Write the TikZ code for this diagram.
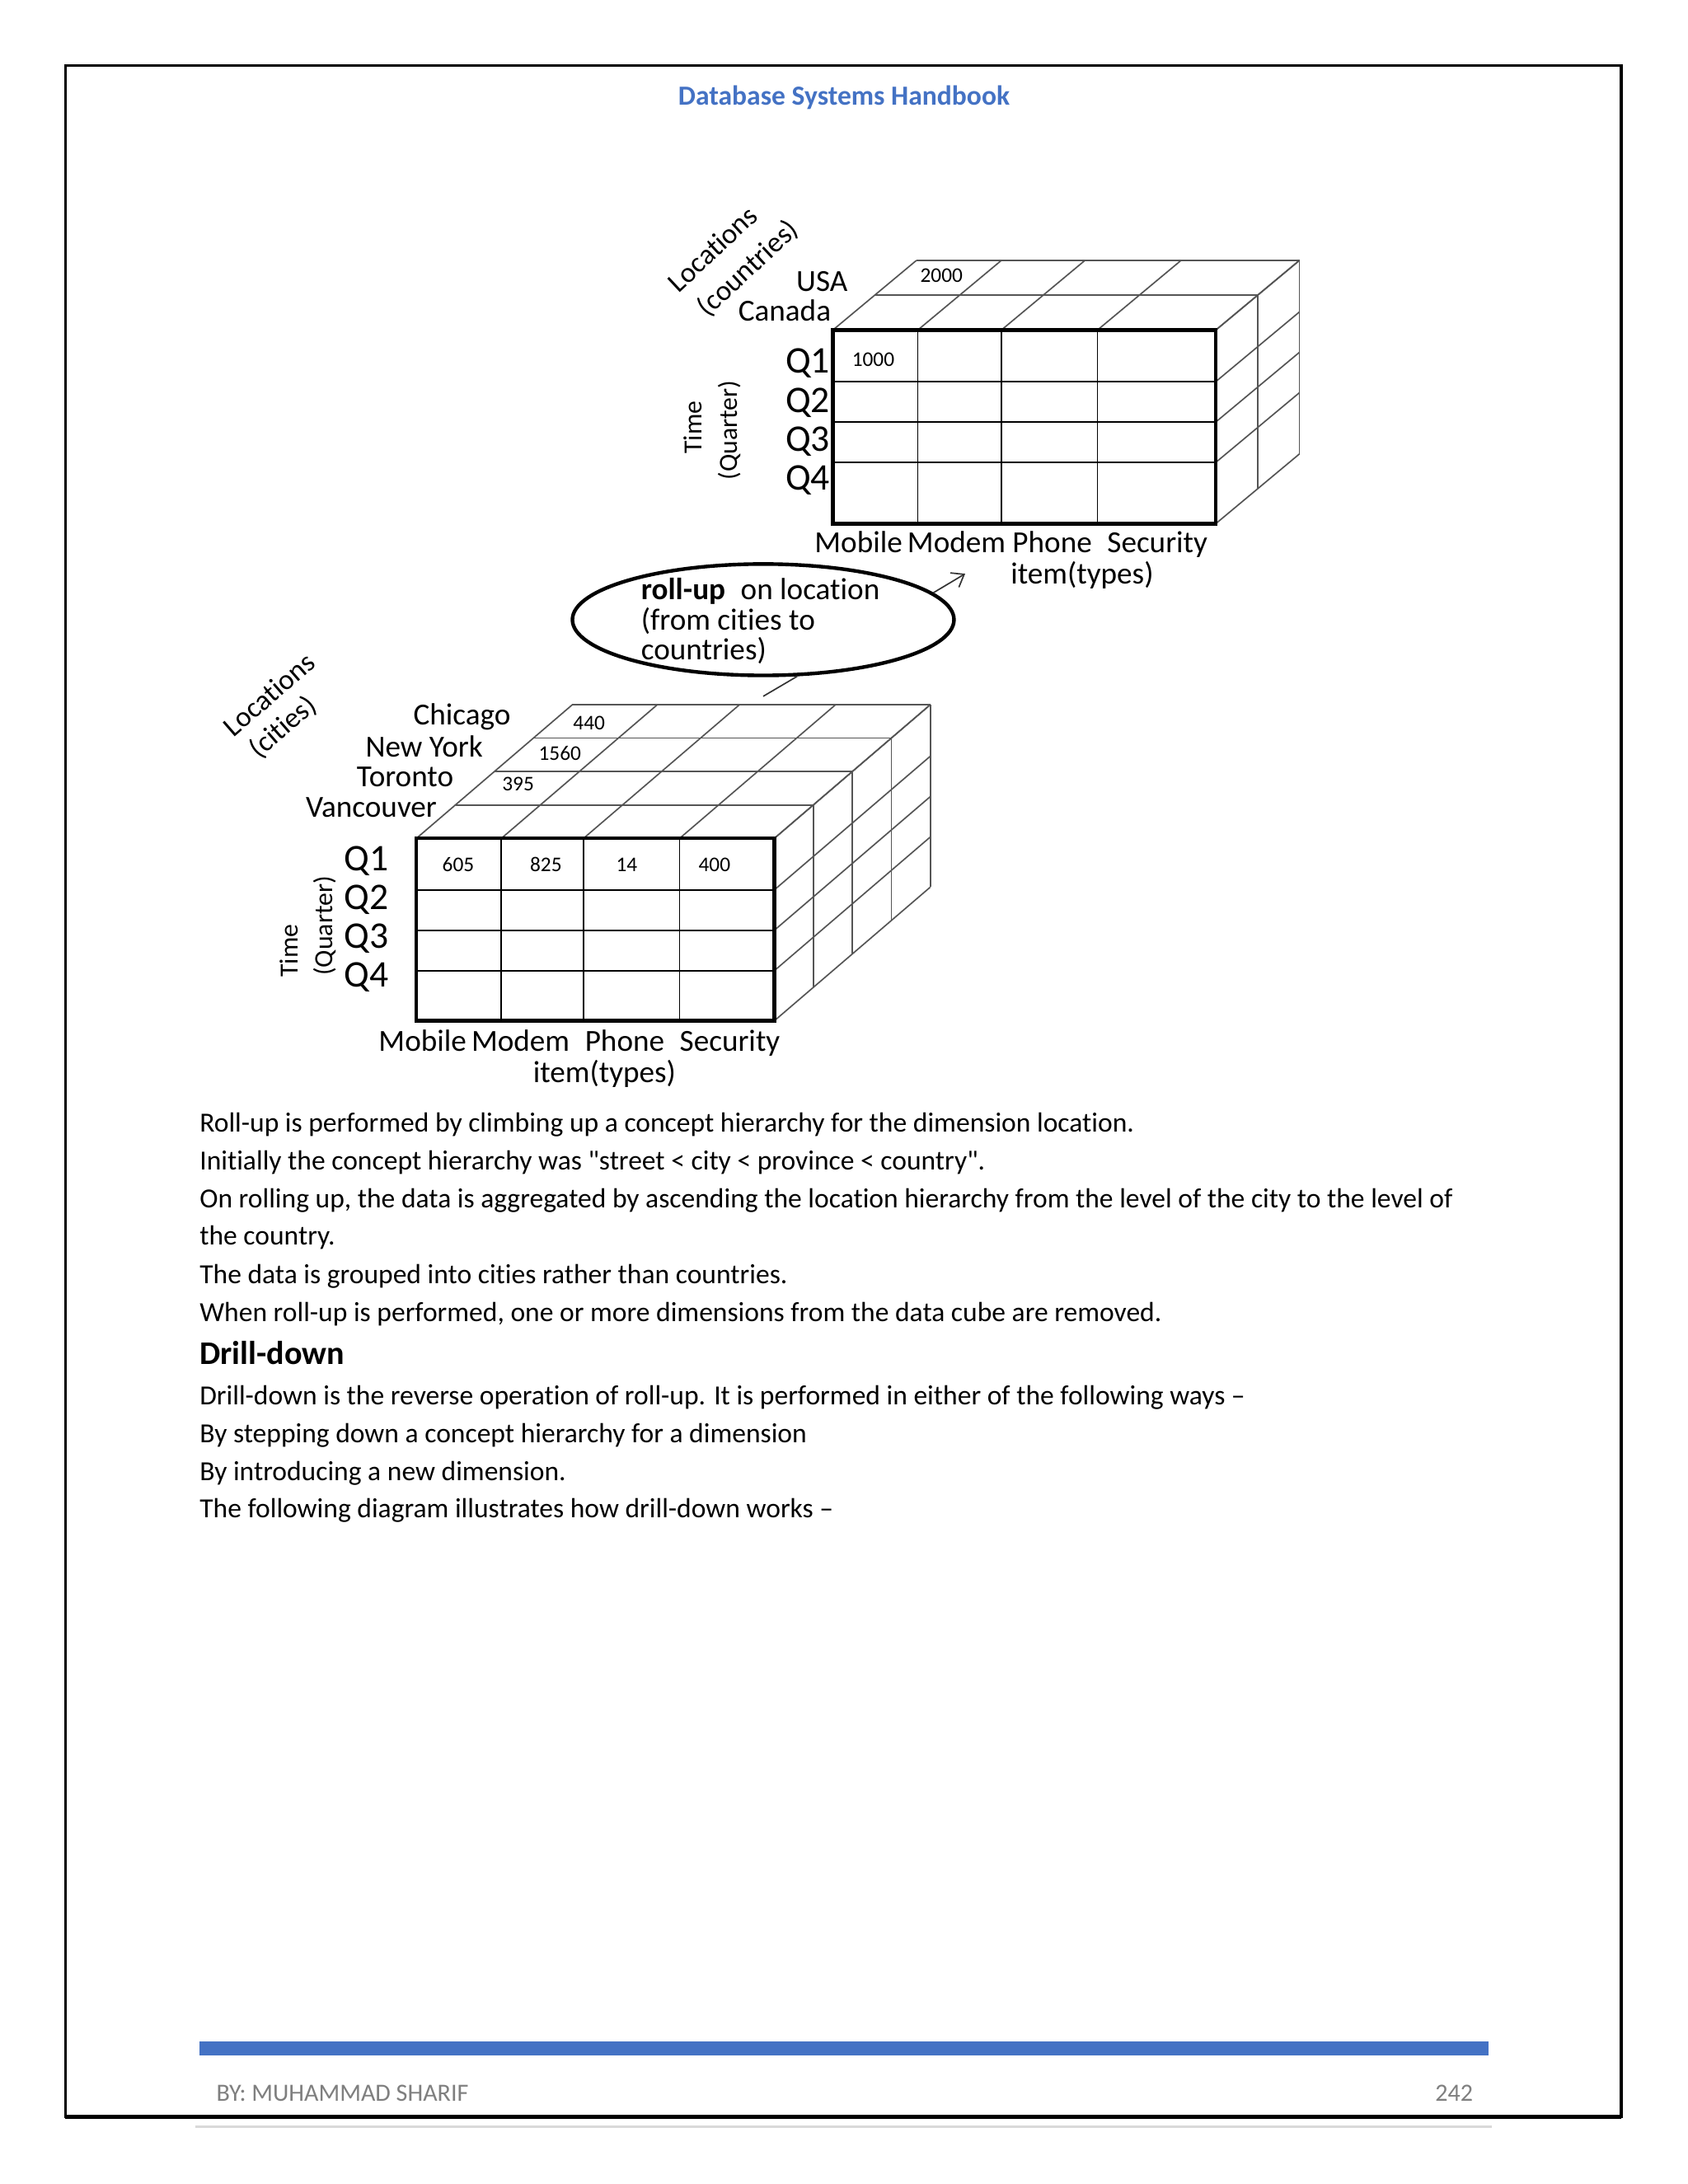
\documentclass[tikz,border=0pt]{standalone}
\usepackage{fontspec}
\setmainfont{Carlito}[Ligatures={TeXOff,NoCommon}]
\usetikzlibrary{shapes.geometric,arrows.meta}
\definecolor{hdrblue}{HTML}{4472C4}
\definecolor{gridgray}{HTML}{555555}
\definecolor{footgray}{HTML}{7F7F7F}
\definecolor{rulegray}{HTML}{D9D9D9}
\newlength\tmpw
\newcommand\calibfont[4]{%
  \settowidth\tmpw{#3\fontsize{10}{12}\selectfont #4}%
  \pgfmathsetmacro#1{10*#2/\tmpw}}
\begin{document}
\calibfont{\bodysz}{335.5}{}{Roll-up is performed by climbing up a concept hierarchy for the dimension location.}%
\calibfont{\hdrsz}{119}{\bfseries}{Database Systems Handbook}%
\calibfont{\footsz}{90.5}{}{BY: MUHAMMAD SHARIF}%
\calibfont{\drillsz}{52}{\bfseries}{Drill-down}%
\begin{tikzpicture}[x=0.5pt,y=-0.5pt,
  thinline/.style={draw=gridgray,line width=0.5pt},
  faceline/.style={draw=black,line width=1.3pt},
  lbl/.style={inner sep=0pt,font=\fontsize{11}{12}\selectfont},
  qlbl/.style={inner sep=0pt,font=\fontsize{13.5}{15}\selectfont},
  num/.style={inner sep=0pt,font=\fontsize{7.5}{9}\selectfont},
  diag/.style={inner sep=0pt,anchor=base west,font=\fontsize{10.3}{12}\selectfont},
  vert/.style={inner sep=0pt,rotate=90,font=\fontsize{9.4}{11}\selectfont},
  body/.style={inner sep=0pt,anchor=base west,font=\fontsize{\bodysz}{12}\selectfont},
  rollell/.style={draw,ellipse,line width=1.3pt,minimum width=137pt,minimum height=40pt,inner sep=0pt},
]
\path[use as bounding box,fill=white] (0,0) rectangle (1212,1568.3);
% page frame
\draw[line width=1pt] (47,47) rectangle (1164,1520);
\draw[line width=1.6pt] (47,1520) -- (1164,1520);
\node[inner sep=0pt,text=hdrblue,font=\bfseries\fontsize{\hdrsz}{12}\selectfont] (header) at (606,70) {Database Systems Handbook};

% ---------------- top cube ----------------
\foreach \k in {0,1,2} {
  \draw[thinline] (598+30*\k,237-25*\k) -- (873+30*\k,237-25*\k);
  \draw[thinline] (873+30*\k,237-25*\k) -- (873+30*\k,376-25*\k);
}
\foreach \x in {598,659,719,788,873} \draw[thinline] (\x,237) -- ++(60,-50);
\foreach \y in {237,274,303,332,376} \draw[thinline] (873,\y) -- ++(60,-50);
\foreach \x in {659,719,788} \draw[thinline,draw=black] (\x,237) -- (\x,376);
\foreach \y in {274,303,332} \draw[thinline,draw=black] (598,\y) -- (873,\y);
\draw[faceline] (598,237) rectangle (873,376);

\node[diag,rotate=43] (loc1a) at (487,211) {Locations};
\node[diag,rotate=43] (loc1b) at (508,228.5) {(countries)};
\node[lbl,anchor=east] (usa) at (609,202) {USA};
\node[lbl,anchor=east] (can) at (597,223) {Canada};
\node[num] (n2000) at (676,198) {2000};
\node[num] (n1000) at (627,258) {1000};
\node[qlbl] (tq1) at (580,261) {Q1};
\node[qlbl] (tq2) at (580,289) {Q2};
\node[qlbl] (tq3) at (580,317) {Q3};
\node[qlbl] (tq4) at (580,345) {Q4};
\node[vert,anchor=base] (time1a) at (504,307) {Time};
\node[vert,anchor=base] (time1b) at (529.5,309) {(Quarter)};
\node[lbl] (items1) at (726,391) {Mobile\,Modem Phone\enspace Security};
\node[lbl] (itype1) at (777,413) {item(types)};

% ---------------- roll-up ellipse ----------------
\node[rollell] (roll) at (548,445) {};
\node[inner sep=0pt,align=left,font=\fontsize{11}{10.75}\selectfont] (rolltxt) at (546,446)
  {\textbf{roll-up}\enspace on location\\(from cities to\\countries)};
\coordinate (lo) at (548,500);
\coordinate (hi) at (693,412);
\draw[black!80,line width=0.5pt] (lo) -- (roll.-59);
\draw[black!80,line width=0.5pt,-{Straight Barb[length=4pt,width=6pt]}] (roll.9) -- (hi);

% ---------------- bottom cube ----------------
\foreach \k in {0,...,4} {
  \draw[thinline] (299+28*\k,602-24*\k) -- (556+28*\k,602-24*\k);
  \draw[thinline] (556+28*\k,602-24*\k) -- (556+28*\k,733-24*\k);
}
\foreach \x in {299,360,419,488,556} \draw[thinline] (\x,602) -- ++(112,-96);
\foreach \y in {602,639,668,697,733} \draw[thinline] (556,\y) -- ++(112,-96);
\foreach \x in {360,419,488} \draw[thinline,draw=black] (\x,602) -- (\x,733);
\foreach \y in {639,668,697} \draw[thinline,draw=black] (299,\y) -- (556,\y);
\draw[faceline] (299,602) rectangle (556,733);

\node[diag,rotate=41] (loc2a) at (167.5,530) {Locations};
\node[diag,rotate=41] (loc2b) at (186,545.5) {(cities)};
\node[lbl,anchor=east] (chi) at (367,515) {Chicago};
\node[lbl,anchor=east] (ny) at (347,536) {New York};
\node[lbl,anchor=east] (tor) at (326,558) {Toronto};
\node[lbl,anchor=east] (van) at (314,580) {Vancouver};
\node[num] (n440) at (423,519) {440};
\node[num] (n1560) at (402,541) {1560};
\node[num] (n395) at (372,563) {395};
\node[qlbl] (bq1) at (263,618) {Q1};
\node[qlbl] (bq2) at (263,646) {Q2};
\node[qlbl] (bq3) at (263,674) {Q3};
\node[qlbl] (bq4) at (263,702) {Q4};
\node[vert,anchor=base west] (time2a) at (214,702) {Time};
\node[vert,anchor=base west] (time2b) at (238.5,701) {(Quarter)};
\node[num] (n605) at (329,621) {605};
\node[num] (n825) at (392,621) {825};
\node[num] (n14) at (450,621) {14};
\node[num] (n400) at (513,621) {400};
\node[lbl] (items2) at (416,749) {Mobile\,Modem\enspace Phone\enspace Security};
\node[lbl] (itype2) at (434,771) {item(types)};

% ---------------- body text ----------------
\node[body] (t1) at (143,813) {Roll-up is performed by climbing up a concept hierarchy for the dimension location.};
\node[body] (t2) at (143,840) {Initially the concept hierarchy was "street < city < province < country".};
\node[body] (t3) at (143,867) {On rolling up, the data is aggregated by ascending the location hierarchy from the level of the city to the level of};
\node[body] (t4) at (143,894) {the country.};
\node[body] (t5) at (143,922) {The data is grouped into cities rather than countries.};
\node[body] (t6) at (143,949) {When roll-up is performed, one or more dimensions from the data cube are removed.};
\node[inner sep=0pt,anchor=base west,font=\bfseries\fontsize{\drillsz}{14}\selectfont] (drill) at (143,980) {Drill-down};
\node[body] (t7) at (143,1009) {Drill-down is the reverse operation of roll-up. It is performed in either of the following ways –};
\node[body] (t8) at (143,1036) {By stepping down a concept hierarchy for a dimension};
\node[body] (t9) at (143,1063) {By introducing a new dimension.};
\node[body] (t10) at (143,1090) {The following diagram illustrates how drill-down works –};

% ---------------- footer ----------------
\fill[hdrblue] (143,1466) rectangle (1069,1476);
\node[inner sep=0pt,anchor=base west,text=footgray,font=\fontsize{\footsz}{12}\selectfont] (author) at (155,1509) {BY: MUHAMMAD SHARIF};
\node[inner sep=0pt,anchor=base east,text=footgray,font=\fontsize{\footsz}{12}\selectfont] (pageno) at (1058,1509) {242};
\draw[rulegray,line width=1pt] (140,1527) -- (1071,1527);
\end{tikzpicture}
\end{document}
